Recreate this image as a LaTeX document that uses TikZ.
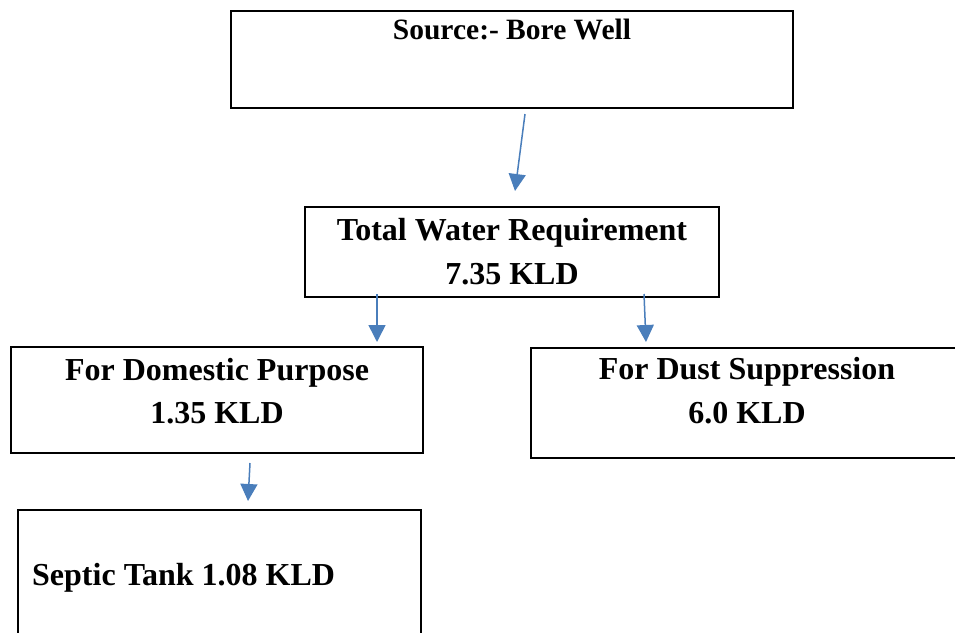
\documentclass[tikz,border=0pt]{standalone}
\usepackage{fontspec}
\setmainfont{Liberation Serif}
\usetikzlibrary{arrows.meta}
\definecolor{arrowblue}{HTML}{4A7EBB}
\tikzset{
  box/.style={draw=black, line width=2.2pt, rectangle, inner sep=0pt},
  lbl/.style={inner sep=0pt, anchor=base, font=\bfseries\fontsize{32}{38}\selectfont},
  flow/.style={draw=arrowblue, line width=1.5pt, -{Triangle[width=17pt,length=17pt]}}
}
\begin{document}
\begin{tikzpicture}[x=1pt,y=-1pt]
\useasboundingbox (0,0) rectangle (955,632);
% boxes
\node[box, minimum width=562pt, minimum height=97pt] (src) at (512,59.5) {};
\node[box, minimum width=414pt, minimum height=90pt] (tot) at (512,252) {};
\node[box, minimum width=412pt, minimum height=106pt] (dom) at (217,400) {};
\node[box, minimum width=440pt, minimum height=110pt, anchor=north west] (dust) at (530,347) {};
\node[box, minimum width=403pt, minimum height=140pt, anchor=north west] (sep) at (17,509) {};
% texts
\node[lbl, font=\bfseries\fontsize{29.5}{36}\selectfont] (srct) at (512,39) {Source:- Bore Well};
\node[lbl] (tott1) at (512,240) {Total Water Requirement};
\node[lbl] (tott2) at (512,284) {7.35 KLD};
\node[lbl] (domt1) at (217,380) {For Domestic Purpose};
\node[lbl] (domt2) at (217,423) {1.35 KLD};
\node[lbl] (dustt1) at (747,379) {For Dust Suppression};
\node[lbl] (dustt2) at (747,423) {6.0 KLD};
\node[lbl, anchor=base west] (sept) at (32,585) {Septic Tank 1.08 KLD};
% arrow end points
\coordinate (a1s) at (525,114);
\coordinate (a1e) at (515,191);
\coordinate (a2s) at (377,294);
\coordinate (a2e) at (377,342);
\coordinate (a3s) at (644,294);
\coordinate (a3e) at (646,342);
\coordinate (a4s) at (250,463);
\coordinate (a4e) at (248,501);
% arrows
\draw[flow] (a1s) -- (a1e);
\draw[flow] (a2s) -- (a2e);
\draw[flow] (a3s) -- (a3e);
\draw[flow] (a4s) -- (a4e);
\end{tikzpicture}
\end{document}
